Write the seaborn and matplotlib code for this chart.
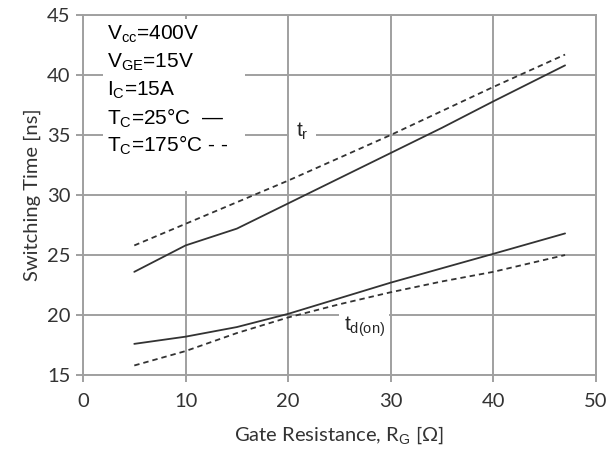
import matplotlib
matplotlib.use("Agg")
import matplotlib.pyplot as plt
import pandas as pd
import seaborn as sns
from matplotlib.patches import Rectangle

# gate resistance [ohm]
rg = [5, 10, 15, 20, 25, 30, 35, 40, 47]

# switching times [ns]
tr_25 = [23.6, 25.8, 27.2, 29.3, 31.4, 33.5, 35.6, 37.8, 40.8]
tr_175 = [25.8, 27.6, 29.4, 31.2, 33.1, 35.0, 37.0, 39.0, 41.7]
tdon_25 = [17.6, 18.2, 19.0, 20.1, 21.4, 22.7, 23.9, 25.1, 26.8]
tdon_175 = [15.8, 17.0, 18.5, 19.8, 20.9, 21.9, 22.8, 23.6, 25.0]

conditions = ["V$_{\\mathrm{cc}}$=400V", "V$_{\\mathrm{GE}}$=15V", "I$_{\\mathrm{C}}$=15A",
              "T$_{\\mathrm{C}}$=25°C  \u2014", "T$_{\\mathrm{C}}$=175°C - -"]

series = {
    ("tr", "25"): tr_25,
    ("tr", "175"): tr_175,
    ("td", "25"): tdon_25,
    ("td", "175"): tdon_175,
}
df = pd.concat(
    [pd.DataFrame({"rg": rg, "t": v, "curve": k[0], "temp": k[1]}) for k, v in series.items()],
    ignore_index=True,
)

sns.set_theme(style="whitegrid")
plt.rcParams["font.family"] = ["Lato", "DejaVu Sans"]
plt.rcParams["mathtext.fontset"] = "custom"
plt.rcParams["mathtext.rm"] = "Liberation Sans"
plt.rcParams["mathtext.it"] = "Liberation Sans:italic"

GRID = "#a0a0a0"
LINE = "#333333"
TXT = "#333333"

fig = plt.figure(figsize=(6.08, 4.53), dpi=100)
ax = fig.add_axes([0.1365, 0.172, 0.8435, 0.795])

for (curve, temp), sub in df.groupby(["curve", "temp"]):
    sns.lineplot(data=sub, x="rg", y="t", ax=ax, color=LINE, lw=1.3,
                 linestyle="-" if temp == "25" else (0, (3, 2.2)), legend=False)

ax.set_xlim(0, 50)
ax.set_ylim(15, 45)
ax.set_xticks(range(0, 51, 10))
ax.set_yticks(range(15, 46, 5))
ax.grid(True, color=GRID, lw=1.4)
for s in ax.spines.values():
    s.set_color(GRID)
    s.set_linewidth(1.4)
ax.tick_params(axis="both", which="both", length=5, width=1.4, color=GRID,
               labelsize=14.5, labelcolor=TXT, pad=4)
ax.tick_params(axis="x", bottom=True, pad=8)
ax.tick_params(axis="y", left=True)
ax.set_xlabel("Gate Resistance, R$_{\\mathrm{G}}$ [Ω]", fontsize=14.5, color=TXT, labelpad=10)
ax.set_ylabel("Switching Time [ns]", fontsize=14.5, color=TXT, labelpad=4)

# condition box
ax.add_patch(Rectangle((0.039, 0.512), 0.277, 0.478, transform=ax.transAxes,
                       facecolor="white", edgecolor="none", zorder=3))
for i, s in enumerate(conditions):
    ax.text(0.047, 0.945 - i * 0.077, s, transform=ax.transAxes, fontsize=15,
            family="Liberation Sans", color="black", va="center", ha="left", zorder=4)

# curve labels
ax.text(20.8, 35.3, "t$_{\\mathrm{r}}$", fontsize=15, family="Liberation Sans", va="center",
        zorder=4, bbox=dict(facecolor="white", edgecolor="none", pad=5))
ax.text(25.4, 19.0, "t$_{\\mathrm{d(on)}}$", fontsize=15, family="Liberation Sans", va="center",
        zorder=4, bbox=dict(facecolor="white", edgecolor="none", pad=3))

fig.savefig("out.png", dpi=100)
